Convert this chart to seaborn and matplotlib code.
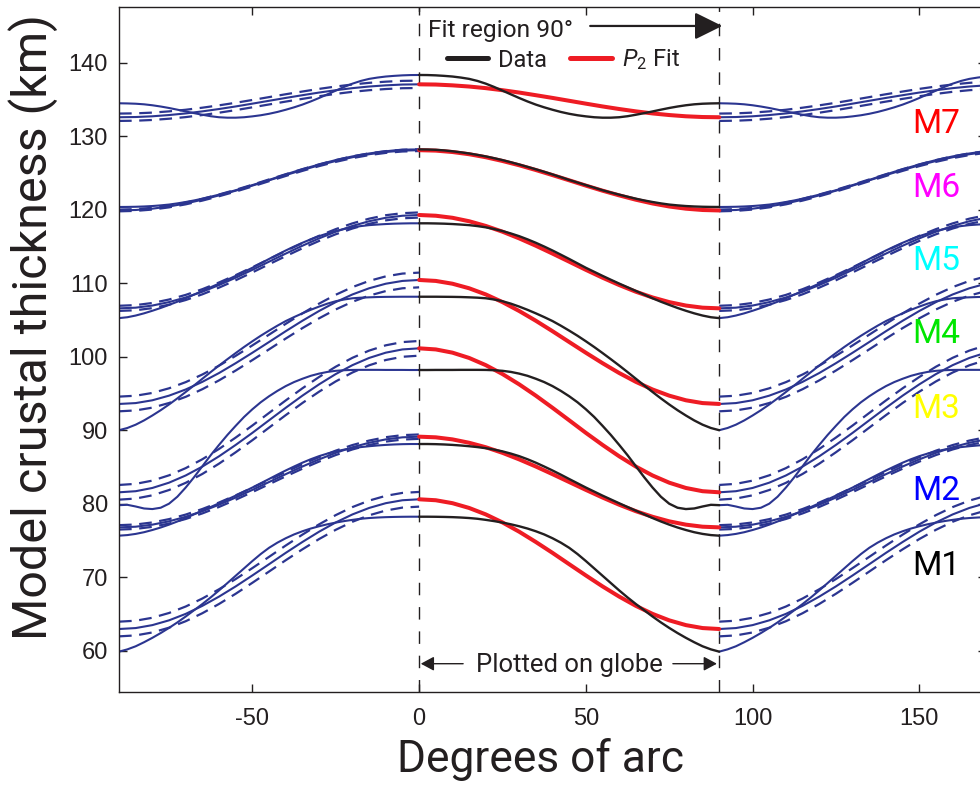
import numpy as np
import pandas as pd
import matplotlib
matplotlib.use("Agg")
import matplotlib.pyplot as plt
import seaborn as sns
from matplotlib.lines import Line2D

# ---------------- data ----------------
# model data profiles, read every 2.5 degrees of arc
data_degrees = [0, 2.5, 5, 7.5, 10, 12.5, 15, 17.5, 20, 22.5, 25, 27.5, 30, 32.5, 35, 37.5,
                40, 42.5, 45, 47.5, 50, 52.5, 55, 57.5, 60, 62.5, 65, 67.5, 70, 72.5, 75,
                77.5, 80, 82.5, 85, 87.5, 90]
# P2 fits, read every 5 degrees of arc
fit_degrees = [0, 5, 10, 15, 20, 25, 30, 35, 40, 45, 50, 55, 60, 65, 70, 75, 80, 85, 90]

models = ["M1", "M2", "M3", "M4", "M5", "M6", "M7"]
label_colors = ["#000000", "#0000ff", "#ffff00", "#00e600", "#00ffff", "#ff00ff", "#ff0000"]

data_M1 = [78.23, 78.23, 78.22, 78.20, 78.17, 78.12, 78.05, 77.95, 77.80, 77.63, 77.43, 77.20,
           76.93, 76.62, 76.25, 75.82, 75.30, 74.70, 74.00, 73.15, 72.20, 71.20, 70.20, 69.20,
           68.20, 67.25, 66.35, 65.50, 64.65, 63.85, 63.10, 62.40, 61.75, 61.15, 60.60, 60.18, 59.87]
fit_M1 = [80.60, 80.47, 80.07, 79.42, 78.54, 77.45, 76.19, 74.79, 73.31, 71.77, 70.24, 68.75,
          67.36, 66.10, 65.01, 64.13, 63.48, 63.08, 62.95]

data_M2 = [88.12, 88.12, 88.10, 88.06, 88.00, 87.92, 87.82, 87.70, 87.55, 87.36, 87.12, 86.82,
           86.47, 86.05, 85.58, 85.06, 84.52, 83.95, 83.36, 82.78, 82.20, 81.65, 81.10, 80.58,
           80.06, 79.55, 79.05, 78.55, 78.05, 77.58, 77.15, 76.76, 76.42, 76.12, 75.89, 75.73, 75.65]
fit_M2 = [89.12, 89.03, 88.75, 88.29, 87.68, 86.92, 86.03, 85.06, 84.02, 82.95, 81.88, 80.84,
          79.86, 78.98, 78.22, 77.60, 77.15, 76.87, 76.78]

data_M3 = [98.19, 98.19, 98.20, 98.20, 98.20, 98.21, 98.21, 98.21, 98.20, 98.16, 98.08, 97.93,
           97.70, 97.40, 97.00, 96.55, 96.00, 95.35, 94.62, 93.80, 92.85, 91.80, 90.60, 89.35,
           88.00, 86.60, 85.10, 83.60, 82.20, 80.95, 80.00, 79.45, 79.27, 79.35, 79.62, 79.85, 79.80]
fit_M3 = [101.14, 100.99, 100.55, 99.83, 98.85, 97.64, 96.24, 94.70, 93.05, 91.35, 89.64, 88.00,
          86.45, 85.05, 83.84, 82.86, 82.14, 81.70, 81.55]

data_M4 = [108.16, 108.16, 108.16, 108.15, 108.14, 108.12, 108.08, 108.03, 107.95, 107.78, 107.55,
           107.22, 106.82, 106.38, 105.90, 105.39, 104.85, 104.22, 103.55, 102.85, 102.10, 101.32,
           100.50, 99.66, 98.80, 97.91, 97.00, 96.09, 95.20, 94.33, 93.50, 92.72, 92.00, 91.33,
           90.75, 90.30, 90.00]
fit_M4 = [110.44, 110.31, 109.93, 109.31, 108.47, 107.43, 106.22, 104.89, 103.47, 102.00, 100.54,
          99.12, 97.78, 96.58, 95.54, 94.70, 94.07, 93.69, 93.57]

data_M5 = [118.15, 118.15, 118.13, 118.10, 118.05, 117.98, 117.90, 117.77, 117.60, 117.37, 117.10,
           116.77, 116.40, 115.97, 115.50, 114.99, 114.45, 113.88, 113.30, 112.70, 112.10, 111.55,
           111.00, 110.47, 109.95, 109.45, 108.95, 108.45, 107.95, 107.48, 107.05, 106.63, 106.25,
           105.90, 105.60, 105.37, 105.25]
fit_M5 = [119.28, 119.18, 118.90, 118.43, 117.79, 117.01, 116.10, 115.10, 114.03, 112.93, 111.82,
          110.75, 109.75, 108.84, 108.06, 107.43, 106.96, 106.67, 106.58]

data_M6 = [128.20, 128.19, 128.15, 128.07, 127.95, 127.81, 127.65, 127.46, 127.25, 127.01, 126.75,
           126.46, 126.15, 125.83, 125.50, 125.16, 124.80, 124.43, 124.05, 123.70, 123.35, 123.00,
           122.65, 122.34, 122.05, 121.77, 121.50, 121.26, 121.05, 120.86, 120.70, 120.59, 120.50,
           120.44, 120.40, 120.38, 120.37]
fit_M6 = [128.10, 128.04, 127.85, 127.55, 127.14, 126.63, 126.05, 125.40, 124.71, 124.00, 123.28,
          122.59, 121.95, 121.36, 120.85, 120.44, 120.14, 119.96, 119.90]

data_M7 = [138.33, 138.32, 138.28, 138.21, 138.12, 137.98, 137.80, 137.52, 137.15, 136.70, 136.20,
           135.70, 135.20, 134.73, 134.30, 133.93, 133.60, 133.30, 133.05, 132.85, 132.70, 132.58,
           132.52, 132.52, 132.58, 132.72, 132.92, 133.14, 133.37, 133.61, 133.84, 134.04, 134.21,
           134.34, 134.42, 134.46, 134.48]
fit_M7 = [137.06, 137.03, 136.92, 136.76, 136.54, 136.26, 135.94, 135.58, 135.21, 134.82, 134.43,
          134.05, 133.70, 133.38, 133.10, 132.88, 132.71, 132.61, 132.58]

# half-width of the dashed band around each fit (km)
fit_spread = [1.0, 0.3, 1.0, 1.0, 0.35, 0.12, 0.5]

x_ticks = [-50, 0, 50, 100, 150]
y_ticks = [60, 70, 80, 90, 100, 110, 120, 130, 140]

data_all = [data_M1, data_M2, data_M3, data_M4, data_M5, data_M6, data_M7]
fit_all = [fit_M1, fit_M2, fit_M3, fit_M4, fit_M5, fit_M6, fit_M7]

# ---------------- long-form table ----------------
ddeg = np.array(data_degrees, dtype=float)
fdeg = np.array(fit_degrees, dtype=float)
rows = []
for m, d, f, s in zip(models, data_all, fit_all, fit_spread):
    d = np.array(d); f = np.array(f)
    curves = {"data": (ddeg, d), "fit": (fdeg, f), "fit_hi": (fdeg, f + s), "fit_lo": (fdeg, f - s)}
    for kind, (xg, vals) in curves.items():
        # fit region (0..90) and its reflections about 0 and 90 degrees
        for seg, xs in (("center", xg), ("left", -xg), ("right", 180.0 - xg)):
            for xv, yv in zip(xs, vals):
                rows.append(dict(model=m, kind=kind, seg=seg,
                                 curve=f"{m}-{kind}-{seg}", x=xv, y=yv))
df = pd.DataFrame(rows)

# ---------------- style ----------------
sns.set_theme(style="ticks")
plt.rcParams["font.family"] = ["Roboto", "DejaVu Sans"]
plt.rcParams["axes.unicode_minus"] = False
plt.rcParams["mathtext.fontset"] = "custom"
plt.rcParams["mathtext.rm"] = "Roboto"
plt.rcParams["mathtext.it"] = "Roboto:italic"
TXT = "#231f20"
BLUE = "#2b3590"
RED = "#ee1c24"

fig = plt.figure(figsize=(9.8, 7.87), dpi=100)
fig.patch.set_facecolor("white")
ax = fig.add_axes([119 / 980, 95 / 787, 867 / 980, 685 / 787])
ax.set_facecolor("white")

outer = df[df.seg != "center"]
sns.lineplot(data=outer[outer.kind.isin(["data", "fit"])], x="x", y="y",
             units="curve", estimator=None, color=BLUE, lw=1.5, ax=ax, legend=False)
sns.lineplot(data=outer[outer.kind.isin(["fit_hi", "fit_lo"])], x="x", y="y",
             units="curve", estimator=None, color=BLUE, lw=1.6,
             linestyle=(0, (5.7, 3.4)), ax=ax, legend=False)

for xv in (0, 90):
    ax.axvline(xv, color=TXT, lw=1.0, linestyle=(0, (9, 8.5)), zorder=1)

center = df[df.seg == "center"]
sns.lineplot(data=center[center.kind == "fit"], x="x", y="y", units="curve",
             estimator=None, color=RED, lw=2.9, ax=ax, legend=False, zorder=3)
sns.lineplot(data=center[center.kind == "data"], x="x", y="y", units="curve",
             estimator=None, color=TXT, lw=1.7, ax=ax, legend=False, zorder=4)

ax.set_xlim(-90, 170)
ax.set_ylim(54.38, 147.58)
ax.set_xticks(x_ticks)
ax.set_yticks(y_ticks)
ax.tick_params(direction="in", length=5.8, width=1.0, top=True, right=True,
               labelsize=17, colors=TXT, labelfontfamily="Liberation Sans")
ax.tick_params(axis="x", pad=11.5)
ax.tick_params(axis="y", pad=8)
for sp in ax.spines.values():
    sp.set_color(TXT)
    sp.set_linewidth(1.0)

ax.set_xlabel("Degrees of arc", fontsize=32, color=TXT)
ax.set_ylabel("Model crustal thickness (km)", fontsize=35, color=TXT)

# model labels
label_y = [70.34, 80.54, 91.64, 101.84, 111.81, 121.78, 130.40]
m_texts = []
for m, c, yv in zip(models, label_colors, label_y):
    m_texts.append(ax.text(147.9, yv, m, color=c, fontsize=24, ha="left", va="baseline"))

# annotations
t_fit = ax.text(2.7, 143.54, "Fit region 90°", fontsize=17, color=TXT, ha="left", va="baseline")
ax.annotate("", xy=(90.9, 145.0), xytext=(51.3, 145.0),
            arrowprops=dict(arrowstyle="-|>,head_length=0.85,head_width=0.42",
                            lw=1.6, color=TXT, mutation_scale=20, shrinkA=0, shrinkB=0))
t_glob = ax.text(45.1, 57.15, "Plotted on globe", fontsize=18, color=TXT, ha="center", va="baseline")
for x0, x1 in ((13.2, 0.5), (76.1, 89.3)):
    ax.annotate("", xy=(x1, 58.23), xytext=(x0, 58.23),
                arrowprops=dict(arrowstyle="-|>,head_length=0.8,head_width=0.43",
                                lw=1.0, color=TXT, mutation_scale=10, shrinkA=0, shrinkB=0))

handles = [Line2D([], [], color=TXT, lw=3.6), Line2D([], [], color=RED, lw=3.6)]
leg = ax.legend(handles, ["Data", r"$P_2$ Fit"], ncol=2, frameon=False, fontsize=17,
                loc="center left", bbox_to_anchor=((446.7 - 119) / 867, (692 - 60) / 685),
                borderpad=0, borderaxespad=0, handlelength=1.76, handletextpad=0.42,
                columnspacing=0.97)
for t in leg.get_texts():
    t.set_color(TXT)

# ---- size the Myriad-like texts to the reference widths ----
renderer = fig.canvas.get_renderer()


def fit_size(txt, target, vertical=False):
    for _ in range(3):
        bb = txt.get_window_extent(renderer)
        cur = bb.height if vertical else bb.width
        if cur > 0:
            txt.set_fontsize(txt.get_fontsize() * target / cur)


xl = ax.xaxis.label
yl = ax.yaxis.label
fit_size(xl, 287)
fit_size(yl, 627, vertical=True)
fit_size(t_fit, 145)
fit_size(t_glob, 185)
for t in m_texts:
    fit_size(t, 48)

xl.set_va("baseline")
ax.xaxis.set_label_coords((540.5 - 119) / 867, (692 - 772) / 685)
yl.set_rotation_mode("default")
yl.set_va("center")
yl.set_ha("center")
ax.yaxis.set_label_coords((33 - 119) / 867, (692 - 326.5) / 685)

fig.savefig("out.png", dpi=100, facecolor="white")
